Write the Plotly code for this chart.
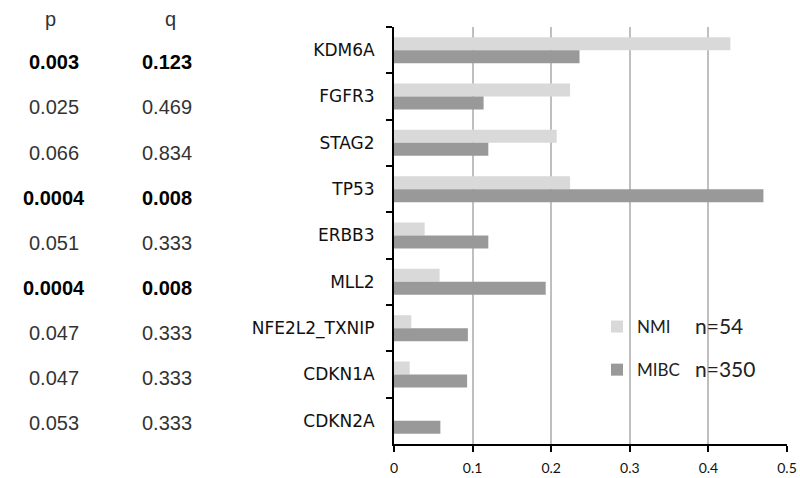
import plotly.graph_objects as go

genes = ["KDM6A", "FGFR3", "STAG2", "TP53", "ERBB3", "MLL2", "NFE2L2_TXNIP", "CDKN1A", "CDKN2A"]
nmi = [0.428, 0.224, 0.207, 0.224, 0.039, 0.058, 0.022, 0.020, 0.0]
mibc = [0.236, 0.114, 0.120, 0.470, 0.120, 0.193, 0.094, 0.093, 0.059]
p_vals = ["0.003", "0.025", "0.066", "0.0004", "0.051", "0.0004", "0.047", "0.047", "0.053"]
q_vals = ["0.123", "0.469", "0.834", "0.008", "0.333", "0.008", "0.333", "0.333", "0.333"]
significant = [True, False, False, True, False, True, False, False, False]
group_sizes = ["n=54", "n=350"]
x_ticks = [0, 0.1, 0.2, 0.3, 0.4, 0.5]
x_ticklabels = ["0", "0.1", "0.2", "0.3", "0.4", "0.5"]

W, H = 800, 478
ML, MR, MT, MB = 394, 13, 27, 34


def px_to_paper_y(py):
    return (H - MB - py) / (H - MT - MB)


def px_to_paper_x(px):
    return (px - ML) / (W - ML - MR)


fig = go.Figure()
fig.add_trace(go.Bar(y=genes, x=nmi, orientation="h", name="NMI",
                     marker=dict(color="#d9d9d9", line=dict(width=0)),
                     legendgroup="a"))
fig.add_trace(go.Bar(y=genes, x=mibc, orientation="h", name="MIBC",
                     marker=dict(color="#999999", line=dict(width=0)),
                     legendgroup="b"))

row_font = "Liberation Sans, Arial, sans-serif"
annotations = []
for txt, cx in (("p", 50), ("q", 170)):
    annotations.append(dict(text=txt, x=px_to_paper_x(cx), y=px_to_paper_y(19),
                            xref="paper", yref="paper", showarrow=False,
                            xanchor="center", yanchor="middle",
                            font=dict(family=row_font, size=20, color="#333333")))
for i, (pv, qv, sig) in enumerate(zip(p_vals, q_vals, significant)):
    ypx = 62.3 + 45.1 * i
    for txt, cx in ((pv, 54), (qv, 167)):
        annotations.append(dict(
            text=f"<b>{txt}</b>" if sig else txt,
            x=px_to_paper_x(cx), y=px_to_paper_y(ypx), xref="paper", yref="paper",
            showarrow=False, xanchor="center", yanchor="middle",
            font=dict(family=row_font, size=20, color="#000000" if sig else "#333333")))

for txt, ypx in zip(group_sizes, (325, 368)):
    annotations.append(dict(text=txt, x=px_to_paper_x(693), y=px_to_paper_y(ypx),
                            xref="paper", yref="paper", showarrow=False,
                            xanchor="left", yanchor="middle",
                            font=dict(family="Lato, sans-serif", size=21, color="#222222")))

fig.update_layout(
    template="none",
    width=W, height=H,
    margin=dict(l=ML, r=MR, t=MT, b=MB, pad=0, autoexpand=False),
    paper_bgcolor="white", plot_bgcolor="white",
    barmode="group", bargap=0.44, bargroupgap=0,
    showlegend=True,
    legend=dict(x=px_to_paper_x(597), y=px_to_paper_y(309), xanchor="left", yanchor="top",
                xref="paper", yref="paper",
                bgcolor="rgba(0,0,0,0)", borderwidth=0, tracegroupgap=18,
                font=dict(family="Lato, sans-serif", size=17, color="#222222"),
                itemclick=False),
    annotations=annotations,
    xaxis=dict(range=[0, 0.5], tickvals=x_ticks, ticktext=x_ticklabels,
               automargin=False,
               showgrid=True, gridcolor="#bfbfbf", gridwidth=2,
               zeroline=False, showline=True, linecolor="#000000", linewidth=2,
               ticks="outside", ticklen=6, tickwidth=2, tickcolor="#000000",
               ticklabelstandoff=4,
               tickfont=dict(family="Lato, sans-serif", size=14, color="#111111"),
               fixedrange=True),
    yaxis=dict(categoryorder="array", categoryarray=genes, autorange="reversed",
               automargin=False,
               showline=True, linecolor="#000000", linewidth=2,
               ticks="outside", ticklen=6, tickwidth=2, tickcolor="#000000",
               tickson="boundaries", showgrid=False, zeroline=False,
               ticklabelstandoff=14,
               tickfont=dict(family="DejaVu Sans, sans-serif", size=17, color="#111111"),
               fixedrange=True),
)

fig.write_html("out.html",
               config={"displayModeBar": False, "staticPlot": True},
               post_script="document.body.style.margin='0';document.body.style.overflow='hidden';")
